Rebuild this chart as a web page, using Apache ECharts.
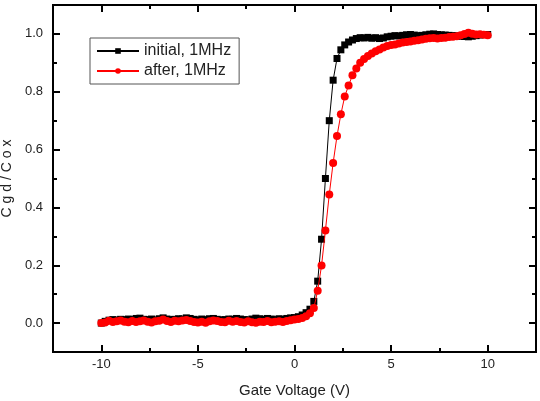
<!DOCTYPE html>
<html>
<head>
<meta charset="utf-8">
<script src="https://cdn.jsdelivr.net/npm/echarts@6/dist/echarts.min.js"></script>
<style>
  html, body { margin: 0; padding: 0; background: #fff; }
  #main { width: 540px; height: 401px; }
</style>
</head>
<body>
<div id="main"></div>
<script>
// gate voltage (V)
var voltage = [
  -10, -9.8, -9.6, -9.4, -9.2, -9, -8.8, -8.6, -8.4, -8.2,
  -8, -7.8, -7.6, -7.4, -7.2, -7, -6.8, -6.6, -6.4, -6.2,
  -6, -5.8, -5.6, -5.4, -5.2, -5, -4.8, -4.6, -4.4, -4.2,
  -4, -3.8, -3.6, -3.4, -3.2, -3, -2.8, -2.6, -2.4, -2.2,
  -2, -1.8, -1.6, -1.4, -1.2, -1, -0.8, -0.6, -0.4, -0.2,
  0, 0.2, 0.4, 0.6, 0.8, 1, 1.2, 1.4, 1.6, 1.8,
  2, 2.2, 2.4, 2.6, 2.8, 3, 3.2, 3.4, 3.6, 3.8,
  4, 4.2, 4.4, 4.6, 4.8, 5, 5.2, 5.4, 5.6, 5.8,
  6, 6.2, 6.4, 6.6, 6.8, 7, 7.2, 7.4, 7.6, 7.8,
  8, 8.2, 8.4, 8.6, 8.8, 9, 9.2, 9.4, 9.6, 9.8,
  10
];

// Cgd/Cox, initial 1MHz
var initialCgd = [
  0.000, 0.006, 0.010, 0.012, 0.010, 0.013, 0.012, 0.014, 0.012, 0.016,
  0.017, 0.013, 0.012, 0.014, 0.011, 0.015, 0.018, 0.014, 0.012, 0.013,
  0.015, 0.014, 0.018, 0.016, 0.013, 0.011, 0.014, 0.012, 0.015, 0.016,
  0.013, 0.011, 0.012, 0.014, 0.013, 0.016, 0.014, 0.012, 0.011, 0.014,
  0.017, 0.015, 0.013, 0.016, 0.014, 0.012, 0.015, 0.013, 0.016, 0.018,
  0.019, 0.022, 0.028, 0.036, 0.048, 0.075, 0.145, 0.290, 0.500, 0.700,
  0.840, 0.915, 0.945, 0.962, 0.972, 0.979, 0.984, 0.987, 0.986, 0.988,
  0.985, 0.987, 0.984, 0.986, 0.990, 0.992, 0.994, 0.993, 0.995, 0.997,
  0.998, 0.996, 0.994, 0.995, 0.997, 0.999, 1.000, 0.998, 0.997, 0.996,
  0.995, 0.994, 0.993, 0.992, 0.991, 0.990, 0.992, 0.994, 0.996, 0.998,
  0.998
];

// Cgd/Cox, after 1MHz
var afterCgd = [
  0.000, 0.002, 0.008, 0.004, 0.006, 0.009, 0.005, 0.003, 0.007, 0.004,
  0.006, 0.009, 0.005, 0.002, 0.006, 0.008, 0.012, 0.007, 0.004, 0.008,
  0.006, 0.009, 0.011, 0.007, 0.004, 0.002, 0.005, 0.001, 0.006, 0.009,
  0.007, 0.004, 0.003, 0.008, 0.005, 0.007, 0.004, 0.002, 0.006, 0.003,
  0.001, 0.005, 0.004, 0.007, 0.003, 0.005, 0.006, 0.004, 0.007, 0.010,
  0.012, 0.014, 0.018, 0.024, 0.034, 0.052, 0.112, 0.199, 0.320, 0.445,
  0.554, 0.647, 0.722, 0.784, 0.822, 0.857, 0.880, 0.900, 0.913, 0.924,
  0.932, 0.940, 0.946, 0.953, 0.958, 0.962, 0.963, 0.967, 0.970, 0.972,
  0.974, 0.976, 0.978, 0.981, 0.983, 0.985, 0.986, 0.984, 0.986, 0.987,
  0.989, 0.990, 0.992, 0.995, 1.000, 1.004, 1.001, 0.998, 0.999, 0.997,
  0.995
];

var xMajor = [-10, -5, 0, 5, 10];
var xMinor = [-7.5, -2.5, 2.5, 7.5];
var yMajor = [0, 0.2, 0.4, 0.6, 0.8, 1.0];
var yMinor = [0.1, 0.3, 0.5, 0.7, 0.9];

var FONT = 'Liberation Sans';
var lineSty = { color: '#000', width: 2 };

function pairs(xs, ys) {
  return xs.map(function (x, i) { return [x, ys[i]]; });
}

// one axis per side & tick length (major / minor)
function xAx(pos, ticks, len, withLabels) {
  return {
    type: 'value', position: pos, min: -12.5, max: 12.5,
    axisLine: { show: true, onZero: false, lineStyle: lineSty },
    axisTick: { show: true, inside: true, length: len, customValues: ticks, lineStyle: { color: '#000', width: 2 } },
    axisLabel: withLabels ? {
      show: true, customValues: ticks, margin: 6,
      fontFamily: FONT, fontSize: 13, color: '#222'
    } : { show: false },
    splitLine: { show: false }
  };
}
function yAx(pos, ticks, len, withLabels) {
  return {
    type: 'value', position: pos, min: -0.1, max: 1.1,
    axisLine: { show: true, onZero: false, lineStyle: lineSty },
    axisTick: { show: true, inside: true, length: len, customValues: ticks, lineStyle: { color: '#000', width: 2 } },
    axisLabel: withLabels ? {
      show: true, customValues: ticks, margin: 10,
      fontFamily: FONT, fontSize: 13, color: '#222',
      formatter: function (v) { return v.toFixed(1); }
    } : { show: false },
    splitLine: { show: false }
  };
}

var xBottom = xAx('bottom', xMajor, 7, true);
xBottom.name = 'Gate Voltage (V)';
xBottom.nameLocation = 'middle';
xBottom.nameGap = 31;
xBottom.nameTextStyle = { fontFamily: FONT, fontSize: 15, color: '#222' };

var yLeft = yAx('left', yMajor, 7, true);
yLeft.name = 'C g d / C o x';
yLeft.nameLocation = 'middle';
yLeft.nameGap = 35;
yLeft.nameTextStyle = { fontFamily: FONT, fontSize: 14, color: '#222' };

var chart = echarts.init(document.getElementById('main'), null, { renderer: 'canvas' });
chart.setOption({
  animation: false,
  backgroundColor: '#fff',
  grid: { left: 53, right: 4, top: 5, bottom: 49, outerBoundsMode: 'none', containLabel: false },
  legend: {
    orient: 'vertical',
    left: 90, top: 38,
    padding: [5, 8, 5, 6],
    itemGap: 4,
    itemWidth: 42, itemHeight: 7,
    borderColor: '#555', borderWidth: 1,
    textStyle: { fontFamily: FONT, fontSize: 16, color: '#222' },
    data: ['initial, 1MHz', 'after, 1MHz']
  },
  xAxis: [
    xBottom,
    xAx('bottom', xMinor, 4, false),
    xAx('top', xMajor, 7, false),
    xAx('top', xMinor, 4, false)
  ],
  yAxis: [
    yLeft,
    yAx('left', yMinor, 4, false),
    yAx('right', yMajor, 7, false),
    yAx('right', yMinor, 4, false)
  ],
  series: [
    {
      name: 'initial, 1MHz', type: 'line',
      data: pairs(voltage, initialCgd),
      symbol: 'rect', symbolSize: 7, showAllSymbol: true,
      itemStyle: { color: '#000' },
      lineStyle: { color: '#000', width: 1 },
      z: 2
    },
    {
      name: 'after, 1MHz', type: 'line',
      data: pairs(voltage, afterCgd),
      symbol: 'circle', symbolSize: 8, showAllSymbol: true,
      itemStyle: { color: '#f00' },
      lineStyle: { color: '#f00', width: 1 },
      z: 3
    }
  ]
});
</script>
</body>
</html>
